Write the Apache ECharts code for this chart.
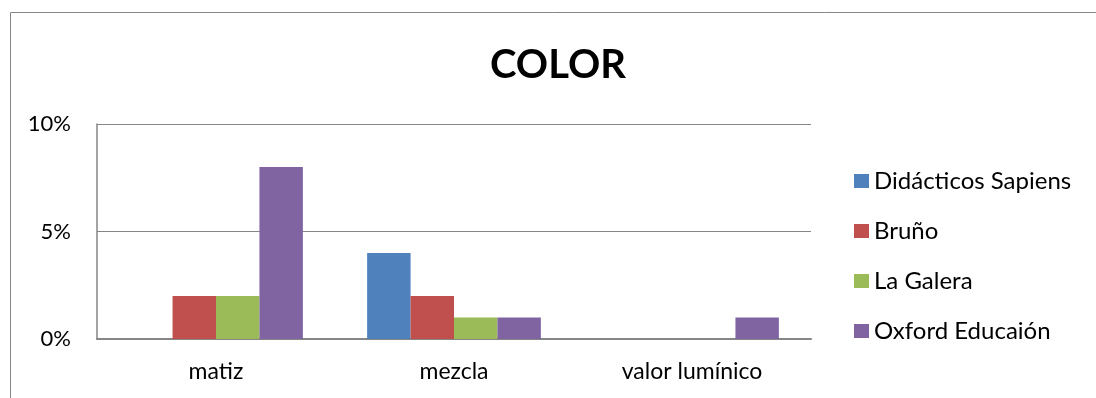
<!DOCTYPE html>
<html>
<head>
<meta charset="utf-8">
<script src="https://cdn.jsdelivr.net/npm/echarts@6/dist/echarts.min.js"></script>
<style>
  html, body { margin: 0; padding: 0; background: #ffffff; }
  #chart { width: 1096px; height: 398px; }
</style>
</head>
<body>
<div id="chart"></div>
<script>
// Categories and percentages per publisher
const categories = ['matiz', 'mezcla', 'valor lumínico'];
const didacticosSapiens = [0, 4, 0];
const bruno = [2, 2, 0];
const laGalera = [2, 1, 0];
const oxfordEducaion = [8, 1, 1];
const yTicks = [0, 5, 10];

const seriesNames = ['Didácticos Sapiens', 'Bruño', 'La Galera', 'Oxford Educaión'];
const seriesValues = [didacticosSapiens, bruno, laGalera, oxfordEducaion];
const palette = ['#4F81BD', '#C0504D', '#9BBB59', '#8064A2'];

const FONT = 'Lato';
const chart = echarts.init(document.getElementById('chart'), null, { renderer: 'canvas' });

chart.setOption({
  backgroundColor: '#ffffff',
  animation: false,
  color: palette,
  textStyle: { fontFamily: FONT, color: '#000000' },
  graphic: [{
    type: 'polyline',
    silent: true,
    shape: { points: [[10.5, 420], [10.5, 12.5], [1120, 12.5]] },
    style: { stroke: '#868686', lineWidth: 1, fill: null }
  }],
  title: {
    text: 'COLOR',
    left: 485,
    top: 40,
    textStyle: { fontFamily: FONT, fontSize: 40, fontWeight: 'bold', color: '#000000' }
  },
  legend: {
    orient: 'vertical',
    left: 854,
    top: 169,
    padding: 0,
    itemWidth: 15,
    itemHeight: 14,
    itemGap: 26,
    icon: 'rect',
    textStyle: { fontFamily: FONT, fontSize: 24, color: '#000000', lineHeight: 22 },
    data: seriesNames
  },
  grid: { left: 97, right: 285, top: 124, bottom: 59, containLabel: false },
  xAxis: {
    type: 'category',
    data: categories,
    axisLine: { lineStyle: { color: '#868686', width: 2 } },
    axisTick: { show: false },
    axisLabel: { fontFamily: FONT, fontSize: 23, color: '#000000', margin: 21 }
  },
  yAxis: {
    type: 'value',
    min: yTicks[0],
    max: yTicks[yTicks.length - 1],
    interval: yTicks[1] - yTicks[0],
    axisLine: { show: true, lineStyle: { color: '#868686', width: 1.5 } },
    axisTick: { show: false },
    splitLine: { lineStyle: { color: '#868686', width: 1 } },
    axisLabel: { fontFamily: FONT, fontSize: 22, color: '#000000', margin: 26, formatter: '{value}%' }
  },
  series: seriesNames.map((name, i) => ({
    name: name,
    type: 'bar',
    data: seriesValues[i],
    barGap: '0%',
    barCategoryGap: '27%',
    itemStyle: { color: palette[i] }
  }))
});
</script>
</body>
</html>
